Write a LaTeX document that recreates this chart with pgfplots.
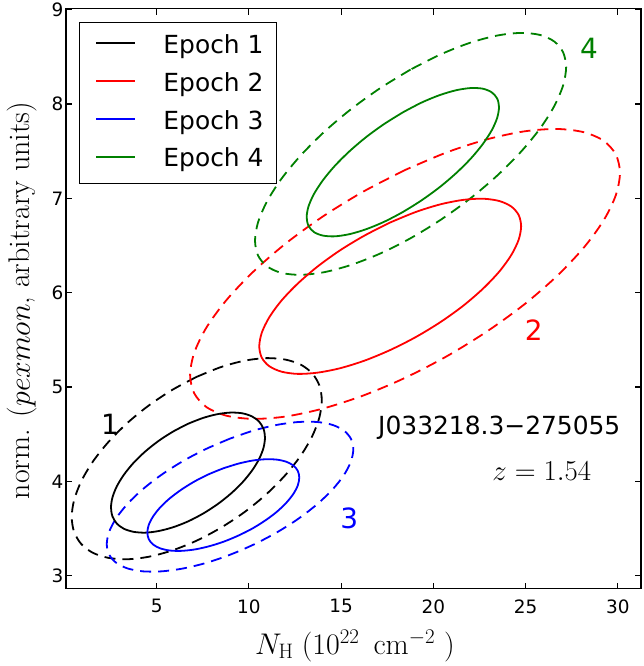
\documentclass[border=0pt]{standalone}
\usepackage{fix-cm}
\usepackage[no-math]{fontspec}
\newfontfamily\dejavu{DejaVu Sans}
\usepackage{pgfplots}
\pgfplotsset{compat=1.18}
\definecolor{mplgreen}{RGB}{0,128,0}
\definecolor{mplblue}{RGB}{0,0,255}
\definecolor{mplred}{RGB}{255,0,0}
\newcommand{\legkey}[1]{\textcolor{#1}{\rule[9bp]{39bp}{2bp}}}
\begin{document}
\begin{tikzpicture}
\path[use as bounding box] (-66bp,-77.3bp) rectangle (578bp,588.7bp);
\begin{axis}[
  at={(0,0)}, anchor=south west,
  scale only axis, width=575bp, height=580bp,
  xmin=0.08, xmax=31.26, ymin=2.862, ymax=9.01,
  xtick={5,10,15,20,25,30}, ytick={3,4,5,6,7,8,9},
  tick align=inside, major tick length=6bp,
  axis line style={line width=1.2bp},
  tick style={line width=1.1bp, black},
  /pgf/number format/assume math mode=true,
  ticklabel style={font=\dejavu\fontsize{18.5}{22}\selectfont},
  xticklabel style={anchor=north, inner sep=0pt, yshift=-10.6bp},
  yticklabel style={anchor=east, inner sep=0pt, xshift=-2.5bp},
  xlabel={$N_{\mathrm{H}}\;(10^{22}\ \,\mathrm{cm}^{-2}\ )$},
  xlabel style={at={(axis description cs:0.5026,-0.1131)}, anchor=base, font=\fontsize{30}{36}\selectfont},
  ylabel={norm. ($pexmon$, arbitrary units)},
  ylabel style={at={(axis description cs:-0.0626,0.4968)}, anchor=base, font=\fontsize{30}{36}\selectfont},
  every axis plot/.append style={line width=1.8bp},
]
% dashed contours
\addplot[black, dash pattern=on 11bp off 7bp, smooth] coordinates {
(7.170,5.108) (5.847,4.970) (4.575,4.805) (3.403,4.618) (2.376,4.416) (1.532,4.208) (0.906,4.000) (0.520,3.802) (0.390,3.621) (0.520,3.464) (0.906,3.336) (1.532,3.243) (2.376,3.189) (3.403,3.174) (4.575,3.201) (5.847,3.268) (7.170,3.372) (8.493,3.510) (9.765,3.675) (10.937,3.862) (11.964,4.064) (12.808,4.272) (13.434,4.480) (13.820,4.678) (13.950,4.859) (13.820,5.016) (13.434,5.144) (12.808,5.237) (11.964,5.291) (10.937,5.306) (9.765,5.279) (8.493,5.212) (7.170,5.108)};
\addplot[mplred, dash pattern=on 11bp off 7bp, smooth] coordinates {
(18.465,7.300) (16.191,7.070) (14.005,6.807) (11.989,6.520) (10.224,6.220) (8.774,5.920) (7.697,5.631) (7.034,5.363) (6.810,5.128) (7.034,4.933) (7.697,4.787) (8.774,4.696) (10.224,4.662) (11.989,4.687) (14.005,4.771) (16.191,4.909) (18.465,5.097) (20.739,5.327) (22.925,5.591) (24.941,5.877) (26.706,6.177) (28.156,6.477) (29.233,6.766) (29.896,7.034) (30.120,7.270) (29.896,7.464) (29.233,7.610) (28.156,7.701) (26.706,7.735) (24.941,7.710) (22.925,7.626) (20.739,7.488) (18.465,7.300)};
\addplot[mplblue, dash pattern=on 11bp off 7bp, smooth] coordinates {
(8.975,4.453) (7.671,4.343) (6.417,4.214) (5.261,4.070) (4.248,3.917) (3.416,3.761) (2.799,3.608) (2.418,3.464) (2.290,3.334) (2.418,3.224) (2.799,3.137) (3.416,3.077) (4.248,3.046) (5.261,3.046) (6.417,3.076) (7.671,3.135) (8.975,3.222) (10.279,3.332) (11.533,3.461) (12.689,3.605) (13.702,3.758) (14.534,3.914) (15.151,4.067) (15.532,4.211) (15.660,4.341) (15.532,4.451) (15.151,4.538) (14.534,4.598) (13.702,4.629) (12.689,4.629) (11.533,4.599) (10.279,4.540) (8.975,4.453)};
\addplot[mplgreen, dash pattern=on 11bp off 7bp, smooth] coordinates {
(18.765,8.365) (17.119,8.168) (15.537,7.945) (14.079,7.704) (12.801,7.453) (11.751,7.204) (10.972,6.964) (10.492,6.744) (10.330,6.552) (10.492,6.395) (10.972,6.280) (11.751,6.210) (12.801,6.189) (14.079,6.217) (15.537,6.294) (17.119,6.415) (18.765,6.577) (20.411,6.774) (21.993,6.997) (23.451,7.239) (24.729,7.489) (25.779,7.738) (26.558,7.978) (27.038,8.198) (27.200,8.390) (27.038,8.547) (26.558,8.662) (25.779,8.732) (24.729,8.753) (23.451,8.725) (21.993,8.649) (20.411,8.527) (18.765,8.365)};
% solid contours
\addplot[black, solid, smooth] coordinates {
(6.695,4.610) (5.880,4.527) (5.097,4.428) (4.375,4.316) (3.743,4.196) (3.223,4.071) (2.838,3.948) (2.600,3.830) (2.520,3.722) (2.600,3.628) (2.838,3.552) (3.223,3.497) (3.743,3.465) (4.375,3.456) (5.097,3.473) (5.880,3.513) (6.695,3.575) (7.510,3.658) (8.293,3.757) (9.015,3.869) (9.647,3.989) (10.167,4.114) (10.552,4.237) (10.790,4.355) (10.870,4.464) (10.790,4.557) (10.552,4.633) (10.167,4.688) (9.647,4.721) (9.015,4.729) (8.293,4.712) (7.510,4.672) (6.695,4.610)};
\addplot[mplred, solid, smooth] coordinates {
(17.660,6.744) (16.275,6.606) (14.943,6.449) (13.715,6.276) (12.640,6.095) (11.756,5.914) (11.100,5.738) (10.696,5.575) (10.560,5.431) (10.696,5.311) (11.100,5.221) (11.756,5.163) (12.640,5.139) (13.715,5.152) (14.943,5.199) (16.275,5.280) (17.660,5.392) (19.045,5.529) (20.377,5.687) (21.605,5.859) (22.680,6.040) (23.564,6.221) (24.220,6.397) (24.624,6.560) (24.760,6.704) (24.624,6.824) (24.220,6.914) (23.564,6.972) (22.680,6.996) (21.605,6.983) (20.377,6.936) (19.045,6.855) (17.660,6.744)};
\addplot[mplblue, solid, smooth] coordinates {
(8.610,4.138) (7.806,4.074) (7.033,3.997) (6.321,3.910) (5.697,3.818) (5.184,3.723) (4.804,3.628) (4.569,3.539) (4.490,3.457) (4.569,3.387) (4.804,3.330) (5.184,3.290) (5.697,3.267) (6.321,3.263) (7.033,3.277) (7.806,3.310) (8.610,3.359) (9.414,3.424) (10.187,3.500) (10.899,3.587) (11.523,3.679) (12.036,3.775) (12.416,3.869) (12.651,3.958) (12.730,4.040) (12.651,4.110) (12.416,4.167) (12.036,4.207) (11.523,4.230) (10.899,4.234) (10.187,4.220) (9.414,4.187) (8.610,4.138)};
\addplot[mplgreen, solid, smooth] coordinates {
(18.345,7.911) (17.328,7.787) (16.349,7.648) (15.448,7.498) (14.657,7.344) (14.009,7.191) (13.527,7.046) (13.230,6.914) (13.130,6.800) (13.230,6.708) (13.527,6.642) (14.009,6.605) (14.657,6.597) (15.448,6.620) (16.349,6.672) (17.328,6.751) (18.345,6.855) (19.362,6.979) (20.341,7.118) (21.242,7.268) (22.033,7.422) (22.681,7.575) (23.163,7.720) (23.460,7.852) (23.560,7.967) (23.460,8.058) (23.163,8.124) (22.681,8.162) (22.033,8.169) (21.242,8.146) (20.341,8.094) (19.362,8.015) (18.345,7.911)};
% labels
\node[anchor=base, inner sep=0pt, font=\dejavu\fontsize{28}{34}\selectfont, text=black] at (axis cs:2.47,4.492) {1};
\node[anchor=base, inner sep=0pt, font=\dejavu\fontsize{28}{34}\selectfont, text=mplred] at (axis cs:25.44,5.493) {2};
\node[anchor=base, inner sep=0pt, font=\dejavu\fontsize{28}{34}\selectfont, text=mplblue] at (axis cs:15.44,3.495) {3};
\node[anchor=base, inner sep=0pt, font=\dejavu\fontsize{28}{34}\selectfont, text=mplgreen] at (axis cs:28.44,8.477) {4};
\node[anchor=base west, inner sep=0pt, font=\dejavu\fontsize{25}{30}\selectfont] at (axis cs:17.0,4.492) {J033218.3−275055};
\node[anchor=base, inner sep=0pt, font=\fontsize{29}{34}\selectfont] at (axis cs:25.88,4.004) {$z=1.54$};
% legend
\node[anchor=north west, draw=black, line width=1bp, fill=white, inner xsep=13bp, inner ysep=4.7bp,
  font=\dejavu\fontsize{25}{30}\selectfont] at (axis description cs:0.022,0.9776) {%
  \renewcommand{\arraystretch}{1.26667}%
  \begin{tabular}{@{\hspace{4.3bp}}l@{\hspace{28bp}}l@{}}
  \legkey{black} & Epoch 1\\
  \legkey{mplred} & Epoch 2\\
  \legkey{mplblue} & Epoch 3\\
  \legkey{mplgreen} & Epoch 4
  \end{tabular}};
\end{axis}
\end{tikzpicture}
\end{document}
